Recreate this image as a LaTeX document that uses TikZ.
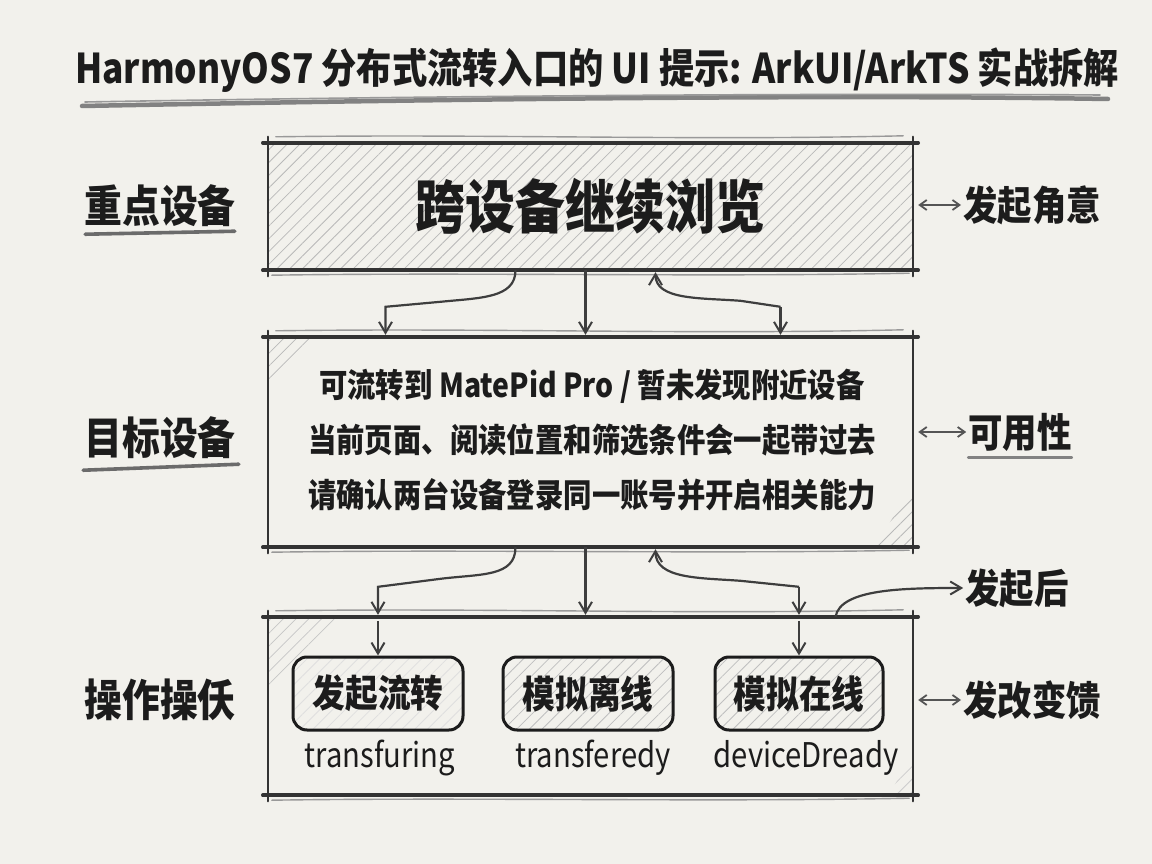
\documentclass[tikz,border=0pt]{standalone}
\usepackage{fontspec}
\setmainfont[FakeStretch=0.86]{Noto Sans CJK SC}
\usetikzlibrary{calc,arrows.meta,patterns.meta}
\definecolor{paper}{RGB}{242,241,236}
\definecolor{ink}{RGB}{28,28,28}
\tikzset{
  arr/.style={-{Straight Barb[length=11pt,width=13pt,line width=2pt]}, line width=2.2pt, draw=ink!85},
  dblarr/.style={{Straight Barb[length=7pt,width=10pt]}-{Straight Barb[length=7pt,width=10pt]}, line width=1.8pt, draw=ink!75},
  lablft/.style={font=\fontsize{44}{48}\selectfont\bfseries, text=ink, inner sep=1pt},
  labrgt/.style={font=\fontsize{40}{44}\selectfont\bfseries, text=ink, inner sep=2pt},
  brush/.style={line width=3.6pt, draw=ink!65, line cap=round},
  boxline/.style={line width=3.6pt, draw=ink!90, line cap=round},
  boxline2/.style={line width=1.4pt, draw=ink!45, line cap=round},
  frame/.style={inner sep=0pt, draw=none},
  hatch/.style={pattern={Lines[angle=45,distance=9pt,line width=0.8pt]}, pattern color=#1},
  hatch/.default=gray!55,
  btn/.style={minimum width=170pt, minimum height=73pt, rounded corners=14pt, draw=ink, line width=3pt, font=\fontsize{38}{42}\selectfont\bfseries, text=ink},
  code/.style={font=\fontsize{34}{38}\selectfont, text=ink},
}
\newcommand\sketchbox[1]{%
  \draw[boxline] ($(#1.north west)+(-5,0)$) -- ($(#1.north east)+(5,0)$);
  \draw[boxline] ($(#1.south west)+(-5,0)$) -- ($(#1.south east)+(5,0)$);
  \draw[boxline, line width=2.4pt] ($(#1.north west)+(0,-6)$) -- ($(#1.south west)+(0,6)$);
  \draw[boxline, line width=2.4pt] ($(#1.north east)+(0,-6)$) -- ($(#1.south east)+(0,6)$);
  \draw[boxline2] ($(#1.north west)+(8,-6)$) .. controls ($(#1.north)+(-100,-9)$) and ($(#1.north)+(100,-2)$) .. ($(#1.north east)+(-10,-7)$);
  \draw[boxline2] ($(#1.south west)+(4,5)$) .. controls ($(#1.south)+(-120,2)$) and ($(#1.south)+(120,7)$) .. ($(#1.south east)+(-4,3)$);
}
\begin{document}
\begin{tikzpicture}[x=1pt,y=-1pt]
\fill[paper] (0,0) rectangle (1152,864);
\useasboundingbox (0,0) rectangle (1152,864);

% title
\node[font=\fontsize{41}{46}\selectfont\bfseries, text=ink] (title) at (597,70) {HarmonyOS7 分布式流转入口的 UI 提示: ArkUI/ArkTS 实战拆解};
\draw[brush, line width=4.5pt, draw=ink!55] (82,106) .. controls (400,100) and (800,94) .. (1108,99);
\draw[boxline2, line width=1.6pt] (85,102) .. controls (420,96) and (820,93) .. (1100,95);

% frames
\node[frame, minimum width=645pt, minimum height=127pt] (b1) at (590.5,206.5) {};
\node[frame, minimum width=645pt, minimum height=210pt] (b2) at (590.5,442) {};
\node[frame, minimum width=645pt, minimum height=178pt] (b3) at (590.5,706) {};

% hatching
\fill[hatch=gray!55] (b1.north west) rectangle (b1.south east);
\fill[hatch] (b2.north west) -- ++(45,0) -- ++(-45,55) -- cycle;
\fill[hatch] (b2.south east) -- ++(-40,0) -- ++(40,-60) -- cycle;
\fill[hatch=gray!45] (b3.north west) -- ++(70,0) -- ++(-70,75) -- cycle;
\fill[hatch=gray!40] (b3.south east) -- ++(-25,0) -- ++(25,-40) -- cycle;

\sketchbox{b1}
\sketchbox{b2}
\sketchbox{b3}

% box texts
\node[font=\fontsize{58}{64}\selectfont\bfseries, text=ink] (t1) at (b1) {跨设备继续浏览};
\node[font=\fontsize{33}{55}\selectfont\bfseries, text=ink, align=center] (t2) at (592,440) {可流转到 MatePid Pro / 暂未发现附近设备\\当前页面、阅读位置和筛选条件会一起带过去\\请确认两台设备登录同一账号并开启相关能力};

% buttons
\node[btn, hatch=gray!25] (k1) at (378,693.5) {发起流转};
\node[btn, hatch=gray!50] (k2) at (588,693.5) {模拟离线};
\node[btn, hatch=gray!50, minimum width=168pt] (k3) at (799,693.5) {模拟在线};
\node[code] (c1) at (380,758) {transfuring};
\node[code] (c2) at (593,758) {transferedy};
\node[code] (c3) at (806,758) {deviceDready};

% left labels
\node[lablft] (l1) at (160,206) {重点设备};
\node[lablft] (l2) at (160,438) {目标设备};
\node[lablft] (l3) at (160,700) {操作操仸};
\draw[brush] ($(l1.south west)+(2,6)$) -- ($(l1.south east)+(-2,3)$);
\draw[brush] ($(l2.south west)+(0,10)$) -- ($(l2.south east)+(2,4)$);

% right labels
\node[labrgt] (r1) at (1032,205) {发起角意};
\node[labrgt] (r2) at (1020,432) {可用性};
\node[labrgt] (r3) at (1017,588) {发起后};
\node[labrgt] (r4) at (1032,700) {发改变馈};
\draw[brush, line width=2.8pt, draw=ink!55] ($(r2.south west)+(2,4)$) -- ($(r2.south east)+(-2,4)$);
\draw[dblarr] ($(b1.east |- r1.west)+(5,0)$) -- (r1.west);
\draw[dblarr] ($(b2.east |- r2.west)+(5,0)$) -- (r2.west);
\draw[dblarr] ($(b3.east |- r4.west)+(5,0)$) -- (r4.west);

% connectors b1 -> b2
\draw[arr] ($(b1.south)+(-75,0)$) .. controls +(0,28) and +(40,-4) .. ($(b2.north)+(-150,-35)$) -- ($(b2.north)+(-205,-30)$) -- ($(b2.north)+(-205,-2)$);
\draw[arr] ($(b1.south)+(-5,0)$) -- ($(b2.north)+(-5,-2)$);
\draw[arr, {Straight Barb[length=11pt,width=13pt,line width=2pt]}-] ($(b1.south)+(65,2)$) .. controls +(0,28) and +(-40,-3) .. ($(b2.north)+(150,-36)$) -- ($(b2.north)+(190,-30)$);
\draw[arr] ($(b2.north)+(190,-30)$) -- ($(b2.north)+(190,-2)$);

% connectors b2 -> b3
\draw[arr] ($(b2.south)+(-75,0)$) .. controls +(0,30) and +(40,-5) .. ($(b3.north)+(-150,-38)$) -- ($(b3.north -| k1.north)+(0,-30)$) -- ($(b3.north -| k1.north)+(0,-2)$);
\draw[arr] ($(b2.south)+(-5,0)$) -- ($(b3.north)+(-5,-2)$);
\draw[arr, {Straight Barb[length=11pt,width=13pt,line width=2pt]}-] ($(b2.south)+(65,2)$) .. controls +(0,30) and +(-40,-3) .. ($(b3.north)+(150,-36)$) -- ($(b3.north -| k3.north)+(0,-30)$);
\draw[arr] ($(b3.north -| k3.north)+(0,-30)$) -- ($(b3.north -| k3.north)+(0,-2)$);
\draw[arr] ($(b3.north -| k1.north)+(0,4)$) -- (k1.north);
\draw[arr] ($(b3.north -| k3.north)+(0,4)$) -- (k3.north);
\draw[arr] ($(b3.north)+(245,0)$) .. controls +(5,-28) and +(-60,0) .. (r3.west);
\end{tikzpicture}
\end{document}
